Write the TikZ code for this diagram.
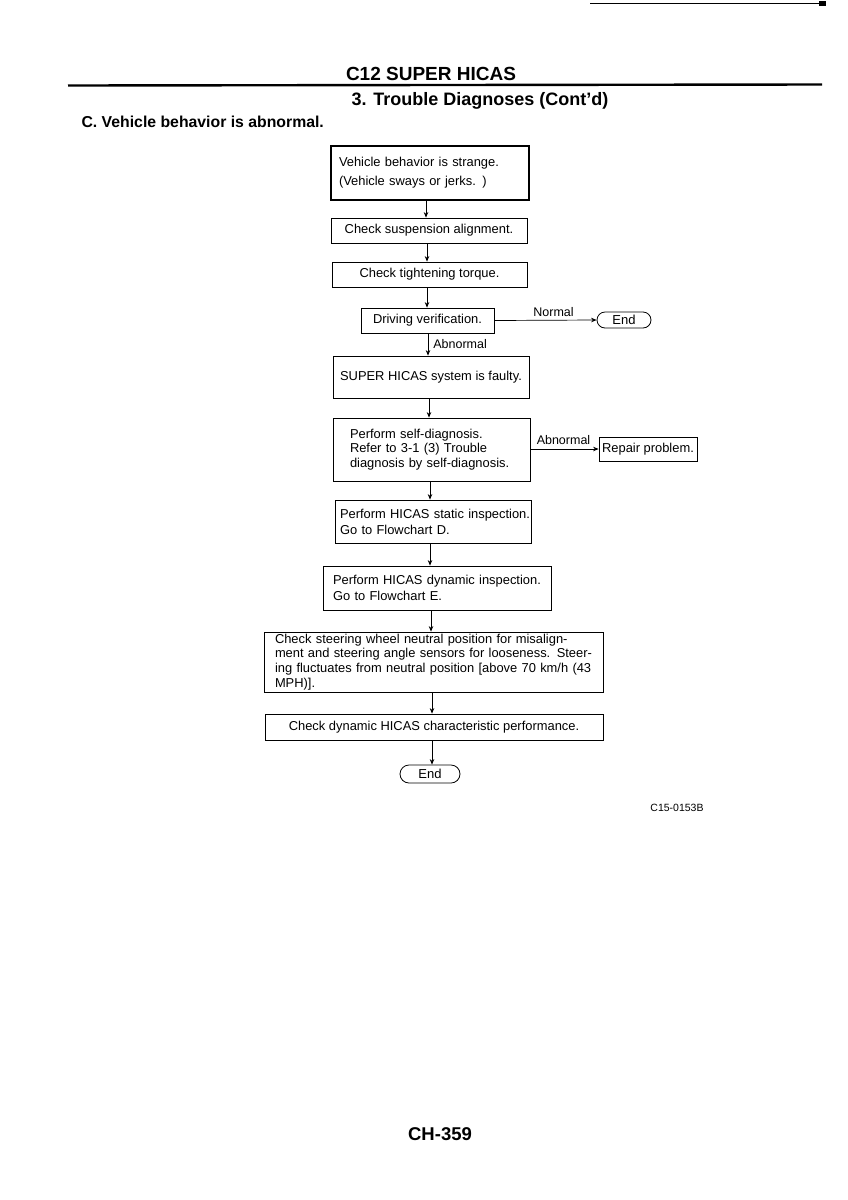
\documentclass[tikz,border=0pt]{standalone}
\usepackage{fontspec}
\setmainfont{Liberation Sans}
\usetikzlibrary{arrows.meta}
\begin{document}
\begin{tikzpicture}[x=1pt,y=-1pt,
  box/.style={draw,line width=0.8pt,inner ysep=2pt,font=\fontsize{12.9}{14.7}\selectfont},
  term/.style={draw,line width=0.8pt,rounded corners=8pt,inner sep=1pt,font=\fontsize{13}{14}\selectfont},
  conn/.style={line width=0.7pt,-{Stealth[length=5.5pt,width=4.5pt]}},
  lbl/.style={font=\fontsize{12.5}{14}\selectfont,inner sep=1pt}]
\useasboundingbox (0,0) rectangle (848,1200);
% top marks
\draw[line width=0.5pt] (590,3) -- (820,3);
\fill (819,1) rectangle (826,6);
% headings
\node[font=\fontsize{19}{22}\selectfont\bfseries] (h1) at (431,74) {C12 SUPER HICAS};
\draw[line width=2.4pt] (68,85.5) -- (822,84.5);
\node[font=\fontsize{18}{22}\selectfont\bfseries] (h2) at (480,101) {3. Trouble Diagnoses (Cont'd)};
\node[font=\fontsize{15.8}{18}\selectfont\bfseries,anchor=west] (h3) at (78,122) {C. Vehicle behavior is abnormal.};
% boxes
\node[box,line width=1.3pt,minimum width=198pt,minimum height=54pt,inner xsep=8pt,text width=182pt,align=left,font=\fontsize{12.9}{19}\selectfont] (b1) at (430,173) {\mbox{Vehicle behavior is strange.}\\\mbox{(Vehicle sways or jerks. )}};
\node[box,minimum width=196pt,minimum height=25pt,align=center] (b2) at (429,230.5) {Check suspension alignment.};
\node[box,minimum width=195pt,minimum height=25pt,align=center] (b3) at (429.5,274.5) {Check tightening torque.};
\node[box,minimum width=133pt,minimum height=25pt,align=center] (b4) at (427.5,320.5) {Driving verification.};
\node[term,minimum width=54pt,minimum height=16pt] (e1) at (624,320) {End};
\node[box,minimum width=196pt,minimum height=42pt,align=center] (b5) at (431,377) {SUPER HICAS system is faulty.};
\node[box,minimum width=197pt,minimum height=63pt,inner xsep=17pt,text width=163pt,align=left] (b6) at (431.5,449.5) {\mbox{Perform self-diagnosis.}\\\mbox{Refer to 3-1 (3) Trouble}\\\mbox{diagnosis by self-diagnosis.}};
\node[box,minimum width=98pt,minimum height=24pt,inner xsep=1pt,align=center] (rp) at (648,449) {Repair problem.};
\node[box,minimum width=196pt,minimum height=43pt,inner xsep=5pt,text width=186pt,align=left,font=\fontsize{12.9}{16}\selectfont] (b7) at (433,521.5) {\mbox{Perform HICAS static inspection.}\\\mbox{Go to Flowchart D.}};
\node[box,minimum width=228pt,minimum height=44pt,inner xsep=10pt,text width=208pt,align=left,font=\fontsize{12.9}{16}\selectfont] (b8) at (437,588) {\mbox{Perform HICAS dynamic inspection.}\\\mbox{Go to Flowchart E.}};
\node[box,minimum width=339pt,minimum height=60pt,inner xsep=11pt,text width=317pt,align=left,inner ysep=1pt] (b9) at (433.5,662) {\mbox{Check steering wheel neutral position for misalign-}\\\mbox{ment and steering angle sensors for looseness. Steer-}\\\mbox{ing fluctuates from neutral position [above 70 km/h (43}\\\mbox{MPH)].}};
\node[box,minimum width=338pt,minimum height=26pt,align=center] (b10) at (434,727) {Check dynamic HICAS characteristic performance.};
\node[term,minimum width=60pt,minimum height=18pt,rounded corners=9pt] (e2) at (430,774) {End};
% connectors
\draw[conn] (b1.south -| 426,0) -- (b2.north -| 426,0);
\draw[conn] (b2.south -| 427,0) -- (b3.north -| 427,0);
\draw[conn] (b3.south -| 427,0) -- (b4.north -| 427,0);
\draw[conn] (b4.south -| 428,0) -- node[lbl,anchor=west,xshift=4pt] (ab1) {Abnormal} (b5.north -| 428,0);
\draw[conn] (b4.east) -- node[lbl,above,yshift=2pt,xshift=8pt] (nm) {Normal} (e1.west);
\draw[conn] (b6.east |- rp.west) -- node[lbl,above,yshift=3pt,xshift=-1pt] (ab2) {Abnormal} (rp.west);
\draw[conn] (b5.south -| 429,0) -- (b6.north -| 429,0);
\draw[conn] (b6.south -| 430,0) -- (b7.north -| 430,0);
\draw[conn] (b7.south -| 430,0) -- (b8.north -| 430,0);
\draw[conn] (b8.south -| 431,0) -- (b9.north -| 431,0);
\draw[conn] (b9.south -| 432,0) -- (b10.north -| 432,0);
\draw[conn] (b10.south -| 432,0) -- (e2.north -| 432,0);
% footers
\node[font=\fontsize{10.5}{12}\selectfont] (code) at (677,808) {C15-0153B};
\node[font=\fontsize{18.5}{21}\selectfont\bfseries] (pg) at (440,1134) {CH-359};
\end{tikzpicture}
\end{document}
